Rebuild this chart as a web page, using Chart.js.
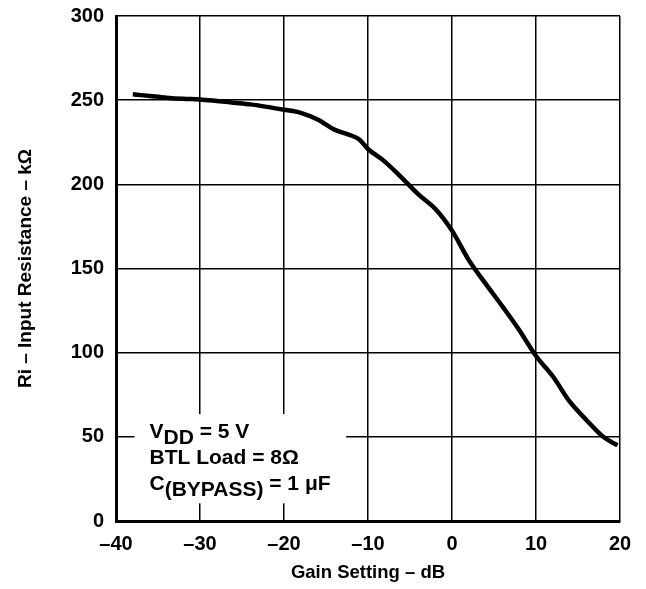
<!DOCTYPE html>
<html>
<head>
<meta charset="utf-8">
<script src="https://cdn.jsdelivr.net/npm/chart.js@4.4.1/dist/chart.umd.min.js"></script>
<style>
    html, body { margin: 0; padding: 0; background: #ffffff; }
    #wrap { width: 646px; height: 589px; }
</style>
</head>
<body>
<div id="wrap"><canvas id="riChart" width="646" height="589"></canvas></div>
<script>
// Gain setting (dB) and input resistance (kOhm)
const gainDb = [-38, -37, -36, -34, -32, -30, -28, -26, -24, -22, -20, -18, -16, -14, -12, -11, -10, -8, -6, -4, -2, 0, 2, 4, 6, 8, 10, 12, 14, 16, 18, 19.7];
const resistance = [253.5, 253, 252.5, 251.5, 250.8, 250.4, 249.5, 248.5, 247.5, 246, 244.3, 242.5, 238.5, 232.5, 229, 226.5, 221, 213.5, 204, 194, 185.5, 172.5, 155, 141, 127.5, 113.5, 98, 86, 71, 60, 50, 45];

const xTicks = [-40, -30, -20, -10, 0, 10, 20];
const yTicks = [0, 50, 100, 150, 200, 250, 300];

const noteLines = [
    { main: "V", sub: "DD", rest: " = 5 V" },
    { main: "BTL Load = 8\u03A9", sub: "", rest: "" },
    { main: "C", sub: "(BYPASS)", rest: " = 1 \u03BCF" }
];

const FONT = "'Liberation Sans', Arial, Helvetica, sans-serif";

// white box with the test conditions, drawn over the grid
const notePlugin = {
    id: "noteBox",
    beforeDatasetsDraw(chart) {
        const c = chart.ctx;
        const xs = chart.scales.x, ys = chart.scales.y;
        const left = xs.getPixelForValue(-37.8);
        const right = xs.getPixelForValue(-12.6);
        const top = ys.getPixelForValue(63.5);
        const bottom = ys.getPixelForValue(10.5);
        c.save();
        c.fillStyle = "#ffffff";
        c.fillRect(left, top, right - left, bottom - top);
        c.fillStyle = "#000000";
        c.textBaseline = "alphabetic";
        c.textAlign = "left";
        let y = top + 24;
        const x0 = left + 15;
        noteLines.forEach(line => {
            c.font = "bold 21px " + FONT;
            c.fillText(line.main, x0, y);
            let x = x0 + c.measureText(line.main).width;
            if (line.sub) {
                c.fillText(line.sub, x, y + 6);
                x += c.measureText(line.sub).width;
            }
            if (line.rest) {
                c.fillText(line.rest, x, y);
            }
            y += 26;
        });
        c.restore();
    }
};

const ctx = document.getElementById("riChart").getContext("2d");

new Chart(ctx, {
    type: "line",
    data: {
        datasets: [{
            data: gainDb.map((g, i) => ({ x: g, y: resistance[i] })),
            borderColor: "#000000",
            borderWidth: 4.5,
            pointRadius: 0,
            fill: false,
            tension: 0.4,
            cubicInterpolationMode: "monotone"
        }]
    },
    options: {
        responsive: false,
        animation: false,
        layout: { padding: { left: 0, right: 26, top: 16, bottom: 0 } },
        scales: {
            x: {
                type: "linear",
                min: -40,
                max: 20,
                afterBuildTicks: s => { s.ticks = xTicks.map(v => ({ value: v })); },
                afterFit: s => { s.height = 68; s.paddingLeft = 0; s.paddingRight = 0; },
                border: { display: true, color: "#000000", width: 3 },
                grid: { color: "#000000", lineWidth: 1.5, drawTicks: false },
                ticks: {
                    color: "#000000",
                    padding: 11,
                    maxRotation: 0,
                    font: { family: FONT, size: 20, weight: "bold" },
                    callback: v => (v < 0 ? "\u2013" + Math.abs(v) : String(v))
                },
                title: {
                    display: true,
                    text: "Gain Setting \u2013 dB",
                    color: "#000000",
                    font: { family: FONT, size: 18.5, weight: "bold" },
                    padding: { top: 0, bottom: 5 }
                }
            },
            y: {
                min: 0,
                max: 300,
                afterBuildTicks: s => { s.ticks = yTicks.map(v => ({ value: v })); },
                afterFit: s => { s.width = 116; s.paddingTop = 0; s.paddingBottom = 0; },
                border: { display: true, color: "#000000", width: 3 },
                grid: { color: "#000000", lineWidth: 1.5, drawTicks: false },
                ticks: {
                    color: "#000000",
                    padding: 12,
                    font: { family: FONT, size: 20, weight: "bold" }
                },
                title: {
                    display: true,
                    text: "Ri \u2013 Input Resistance \u2013 k\u03A9",
                    color: "#000000",
                    font: { family: FONT, size: 19, weight: "bold" },
                    padding: { top: 14, bottom: 0 }
                }
            }
        },
        plugins: {
            legend: { display: false },
            tooltip: { enabled: false }
        }
    },
    plugins: [notePlugin]
});
</script>
</body>
</html>
